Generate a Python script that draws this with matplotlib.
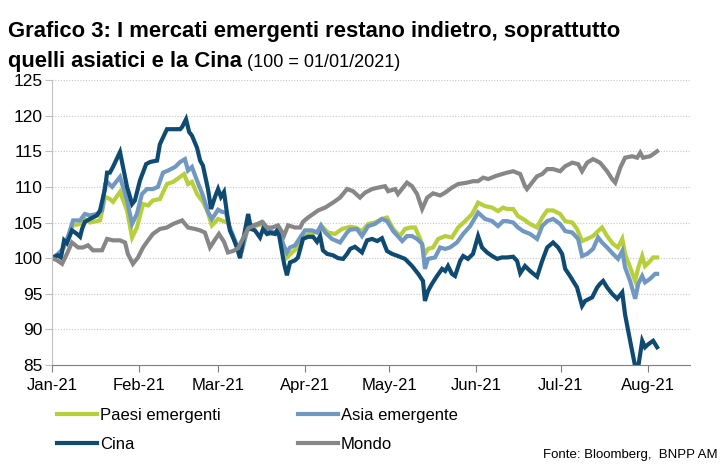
import pandas as pd
import matplotlib.pyplot as plt
import matplotlib.dates as mdates

plt.rcParams['font.family'] = ['Liberation Sans Narrow', 'Liberation Sans', 'DejaVu Sans']

inizio = pd.Timestamp('2021-01-01')

# giorni dal 01/01/2021 e livelli dell'indice (100 = 01/01/2021)
paesi_giorni = [0.0, 2.1, 3.9, 5.7, 7.5, 10.0, 11.7, 13.5, 17.1, 18.9, 20.6, 21.7, 24.2, 26.7,
                28.5, 30.2, 32.4, 34.2, 35.9, 38.4, 40.9, 43.1, 45.6, 47.0, 48.4, 49.8, 51.6,
                53.7, 55.2, 56.9, 59.1, 60.9, 62.6, 64.4, 66.2, 67.6, 69.4, 71.2, 73.3, 75.1,
                76.9, 79.4, 81.1, 82.2, 83.6, 85.4, 87.5, 89.3, 91.8, 94.7, 96.4, 98.2, 100.7,
                103.2, 106.1, 107.8, 110.3, 112.5, 114.9, 117.4, 119.2, 121.4, 123.8, 125.6,
                127.4, 129.2, 131.0, 132.7, 133.8, 135.6, 137.4, 139.9, 142.3, 144.5, 147.0,
                149.5, 151.6, 154.1, 156.6, 158.7, 160.5, 161.9, 164.1, 165.8, 167.6, 170.1,
                172.6, 174.4, 176.2, 178.3, 180.8, 182.6, 185.1, 186.8, 188.6, 190.4, 192.5,
                194.3, 195.7, 197.5, 199.6, 201.4, 202.9, 203.9, 205.7, 207.5, 208.6, 210.0,
                211.0, 212.8, 213.9, 215.3]
paesi_valori = [100.0, 100.4, 101.3, 103.0, 104.6, 104.8, 105.5, 105.0, 105.3, 108.6, 108.3,
                107.9, 109.3, 106.7, 102.9, 104.3, 107.6, 107.4, 108.1, 108.3, 110.4, 110.7,
                111.4, 111.8, 110.4, 110.7, 109.0, 107.9, 106.7, 104.6, 105.5, 105.2, 105.0,
                103.0, 101.6, 101.2, 103.8, 104.4, 104.6, 104.8, 103.4, 103.4, 103.7, 101.5,
                100.1, 100.8, 101.5, 103.2, 103.4, 103.8, 104.3, 103.6, 103.4, 104.1, 104.4,
                104.3, 103.8, 104.8, 105.0, 105.5, 105.7, 104.1, 103.1, 104.1, 104.3, 104.3,
                102.7, 100.6, 101.3, 101.5, 102.7, 103.1, 102.9, 104.3, 105.2, 106.2, 107.8,
                107.3, 107.1, 106.6, 107.1, 106.9, 106.9, 105.9, 105.5, 104.8, 104.3, 105.7,
                106.7, 106.7, 106.2, 105.2, 105.0, 104.1, 102.4, 102.7, 103.1, 103.8, 104.3,
                103.1, 102.0, 101.5, 102.7, 100.6, 98.7, 96.8, 98.7, 100.3, 98.9, 99.6, 100.1,
                100.1]

asia_giorni = [0.0, 2.1, 3.9, 5.7, 7.5, 10.0, 11.7, 13.5, 16.0, 17.8, 18.9, 19.6, 21.4, 24.2,
               26.7, 28.5, 30.2, 32.0, 33.8, 35.9, 37.7, 39.5, 41.3, 43.8, 45.6, 47.3, 48.4,
               49.8, 51.6, 53.7, 55.5, 56.9, 59.1, 60.5, 61.9, 63.0, 64.4, 66.2, 67.6, 69.4,
               71.2, 73.3, 75.1, 76.9, 79.4, 81.1, 82.2, 83.6, 84.7, 86.5, 88.3, 90.0, 92.5,
               94.3, 95.7, 97.2, 99.6, 102.5, 105.0, 106.1, 108.5, 110.3, 112.5, 114.9, 117.4,
               119.2, 121.4, 124.6, 126.3, 128.1, 129.9, 131.7, 132.7, 133.8, 136.3, 138.1,
               139.9, 141.6, 144.1, 146.3, 148.8, 151.6, 154.1, 156.6, 158.7, 160.5, 161.9,
               164.1, 165.8, 167.6, 170.1, 172.6, 174.4, 176.2, 178.3, 180.8, 182.6, 185.1,
               187.2, 188.6, 190.4, 192.5, 194.3, 195.7, 197.5, 199.6, 201.4, 202.9, 203.9,
               205.7, 207.5, 208.6, 210.0, 211.0, 212.8, 214.6, 215.3]
asia_valori = [100.0, 100.6, 101.3, 103.0, 105.3, 105.3, 106.2, 106.0, 106.2, 106.7, 110.4,
               110.7, 110.0, 111.4, 108.1, 104.8, 106.2, 109.0, 109.7, 109.7, 110.0, 112.0,
               112.3, 112.8, 113.5, 113.9, 112.3, 112.8, 110.9, 108.8, 106.5, 105.5, 106.8,
               106.5, 106.4, 104.5, 103.2, 101.2, 101.1, 103.9, 104.6, 104.8, 105.0, 103.9,
               103.6, 103.9, 102.0, 100.8, 101.5, 101.8, 102.9, 103.9, 103.9, 103.6, 104.6,
               103.6, 102.7, 102.2, 103.6, 104.0, 104.1, 103.1, 104.5, 104.8, 105.5, 105.2,
               103.8, 102.4, 103.1, 103.1, 102.7, 102.0, 98.5, 99.9, 100.1, 101.5, 101.3,
               101.5, 102.2, 103.4, 104.5, 106.4, 105.5, 105.2, 104.5, 105.2, 105.2, 105.0,
               104.3, 103.8, 103.4, 102.7, 104.5, 105.2, 105.5, 104.8, 103.8, 103.6, 102.7,
               100.3, 100.6, 101.3, 102.9, 102.2, 101.5, 100.6, 99.9, 101.0, 98.7, 96.8,
               94.3, 96.4, 97.5, 96.6, 97.1, 97.8, 97.8]

cina_giorni = [0.0, 2.1, 3.2, 4.3, 5.3, 7.1, 8.9, 10.0, 10.7, 11.7, 13.5, 16.0, 17.1, 18.9,
               19.6, 20.6, 21.7, 24.2, 26.7, 28.5, 29.5, 31.3, 33.5, 34.9, 37.4, 38.4, 40.9,
               42.7, 45.6, 46.3, 47.7, 48.8, 49.8, 51.6, 52.7, 53.7, 55.5, 56.6, 58.0, 59.1,
               60.1, 61.2, 62.3, 63.3, 64.4, 65.8, 66.9, 68.0, 69.8, 70.8, 72.2, 74.0, 75.1,
               76.5, 77.6, 79.4, 80.4, 81.9, 82.6, 83.6, 84.7, 86.5, 87.5, 89.3, 91.1, 92.9,
               94.3, 95.4, 96.4, 97.9, 100.0, 101.8, 103.6, 105.0, 106.1, 107.8, 110.3, 112.1,
               113.9, 115.7, 117.4, 119.2, 121.0, 123.1, 125.6, 128.1, 130.3, 132.0, 132.7,
               133.8, 135.2, 137.0, 138.8, 139.9, 140.9, 142.3, 143.4, 145.2, 146.3, 148.0,
               149.8, 151.6, 153.0, 154.8, 156.6, 158.4, 160.1, 161.9, 164.1, 165.5, 166.6,
               168.3, 170.1, 172.6, 174.4, 176.2, 178.3, 180.1, 181.5, 182.6, 184.3, 186.8,
               188.6, 189.7, 192.2, 194.0, 195.0, 196.1, 197.5, 199.3, 201.1, 202.9, 203.9,
               205.7, 207.5, 208.6, 210.0, 211.0, 212.1, 213.9, 215.3]
cina_valori = [100.0, 100.4, 100.1, 102.5, 102.1, 103.9, 103.4, 103.0, 104.1, 105.1, 105.5,
               106.0, 106.7, 109.8, 112.0, 112.0, 112.8, 114.9, 110.0, 107.6, 108.1, 110.9,
               113.2, 113.5, 113.7, 116.0, 118.1, 118.1, 118.1, 118.4, 119.5, 117.7, 117.2,
               115.5, 113.7, 113.0, 109.7, 106.9, 108.6, 109.7, 108.6, 109.3, 106.2, 103.9,
               102.9, 101.5, 100.0, 102.5, 106.2, 104.1, 103.9, 102.9, 104.1, 103.4, 103.6,
               103.4, 104.1, 100.8, 99.2, 97.6, 99.4, 99.7, 100.1, 102.7, 103.0, 103.0, 102.3,
               103.1, 101.1, 100.6, 100.4, 100.0, 99.9, 100.6, 101.3, 101.6, 100.8, 102.5,
               102.7, 102.4, 102.8, 101.0, 100.6, 100.3, 99.9, 98.9, 97.8, 96.8, 94.0, 95.4,
               96.4, 97.5, 98.5, 98.2, 98.9, 97.8, 97.5, 99.6, 100.3, 99.9, 100.6, 103.1,
               101.5, 100.8, 100.3, 99.9, 100.1, 100.1, 100.2, 99.6, 97.9, 98.9, 98.2, 97.4,
               99.6, 101.5, 102.2, 101.5, 100.6, 98.5, 97.5, 95.9, 93.3, 94.0, 94.5, 95.9,
               96.4, 96.8, 95.9, 95.0, 94.3, 95.2, 92.1, 88.4, 84.8, 84.8, 88.4, 87.5, 87.9,
               88.4, 87.5]

mondo_giorni = [0.0, 1.8, 3.6, 5.3, 7.1, 9.3, 11.0, 12.8, 14.6, 17.8, 19.6, 21.7, 24.2, 26.0,
                27.0, 28.8, 30.6, 32.4, 34.2, 35.9, 38.4, 40.9, 43.1, 46.3, 48.4, 50.9, 52.7,
                54.4, 56.2, 58.0, 59.4, 61.2, 62.6, 64.4, 66.2, 68.0, 69.8, 72.2, 74.7, 76.5,
                78.3, 80.4, 82.6, 84.0, 86.5, 88.3, 89.3, 91.1, 92.9, 94.7, 97.2, 100.0, 102.5,
                105.0, 107.1, 109.6, 111.4, 113.9, 116.0, 118.5, 119.6, 122.1, 123.1, 126.3,
                128.1, 129.9, 131.7, 133.5, 135.6, 138.1, 139.9, 142.3, 144.5, 147.7, 149.8,
                151.6, 153.4, 155.2, 157.7, 160.1, 161.9, 164.1, 166.6, 168.3, 169.0, 170.8,
                172.6, 174.4, 176.2, 178.3, 180.8, 182.6, 185.1, 187.2, 188.6, 190.4, 192.5,
                195.0, 197.5, 199.3, 200.4, 202.2, 203.9, 206.4, 208.2, 209.3, 210.3, 212.8,
                213.9, 215.3]
mondo_valori = [100.0, 99.7, 99.2, 100.6, 102.2, 101.5, 101.5, 101.8, 101.1, 101.1, 102.7,
                102.5, 102.5, 102.2, 100.6, 99.2, 100.1, 101.5, 102.5, 103.4, 104.1, 104.3,
                104.8, 105.3, 104.3, 104.1, 103.9, 103.6, 101.5, 102.6, 103.4, 102.3, 100.8,
                101.0, 101.4, 102.8, 104.2, 104.6, 105.1, 104.3, 104.3, 104.6, 103.2, 104.6,
                104.3, 104.3, 105.1, 105.7, 106.2, 106.7, 107.1, 107.8, 108.5, 109.7, 109.4,
                108.5, 109.2, 109.7, 109.9, 110.1, 109.4, 109.7, 109.0, 110.6, 110.1, 109.0,
                106.9, 108.5, 109.1, 108.8, 109.2, 109.9, 110.4, 110.6, 110.8, 110.8, 111.3,
                111.1, 111.5, 111.8, 112.0, 112.2, 111.8, 110.1, 109.7, 110.6, 111.5, 111.8,
                112.5, 112.5, 112.2, 112.9, 113.4, 113.2, 112.2, 113.4, 113.9, 113.4, 112.2,
                111.1, 110.6, 112.7, 114.1, 114.3, 114.1, 114.8, 114.1, 114.3, 114.6, 115.0]

serie = [
    ('Paesi emergenti', paesi_giorni, paesi_valori, '#b8cf3c'),
    ('Asia emergente', asia_giorni, asia_valori, '#7098c2'),
    ('Cina', cina_giorni, cina_valori, '#0e4a72'),
    ('Mondo', mondo_giorni, mondo_valori, '#878787'),
]

fig = plt.figure(figsize=(7.25, 4.68), dpi=100)
ax = fig.add_axes([0.0717, 0.220, 0.880, 0.609])

linee = []
for nome, giorni, valori, colore in serie:
    date = inizio + pd.to_timedelta(giorni, unit='D')
    l, = ax.plot(date, valori, color=colore, lw=3.0, label=nome, solid_joinstyle='miter')
    linee.append(l)

ax.set_ylim(85, 125)
ax.set_yticks(range(85, 126, 5))
ax.set_xlim(inizio, pd.Timestamp('2021-08-16'))
ax.xaxis.set_major_locator(mdates.MonthLocator())
ax.xaxis.set_major_formatter(mdates.DateFormatter('%b-%y'))

ax.grid(axis='y', color='#c8c8c8', linestyle=(0, (1, 1.5)), lw=0.8)
ax.set_axisbelow(True)
for lato in ['top', 'right']:
    ax.spines[lato].set_visible(False)
ax.spines['left'].set_color('#c0c0c0')
ax.spines['bottom'].set_color('#7f7f7f')
ax.tick_params(axis='y', colors='#c0c0c0', labelcolor='black', labelsize=12.5, length=5, pad=2)
ax.tick_params(axis='x', colors='#7f7f7f', labelcolor='black', labelsize=12, length=5, pad=4)

# titolo su due righe, la seconda con parte in grassetto e parte normale
fig.text(0.011, 0.922, 'Grafico 3: I mercati emergenti restano indietro, soprattutto',
         fontsize=15.8, fontweight='bold', va='baseline')
t2 = fig.text(0.011, 0.857, 'quelli asiatici e la Cina', fontsize=15.8, fontweight='bold',
              va='baseline')
fig.canvas.draw()
bb = t2.get_window_extent()
fig.text((bb.x1 + 5) / fig.bbox.width, 0.857, '(100 = 01/01/2021)', fontsize=13,
         va='baseline')

# ordine per righe: Paesi, Asia / Cina, Mondo
ordine = [linee[0], linee[2], linee[1], linee[3]]
fig.legend(ordine, [l.get_label() for l in ordine], loc='upper left',
           bbox_to_anchor=(0.0786, 0.129), ncol=2, frameon=False,
           fontsize=12, handlelength=2.4, handletextpad=0.2, columnspacing=4.6,
           labelspacing=0.85, borderpad=0, borderaxespad=0)

fig.text(0.99, 0.015, 'Fonte: Bloomberg,  BNPP AM', fontsize=9.5, ha='right', va='bottom')

fig.savefig('out.png', dpi=100)
